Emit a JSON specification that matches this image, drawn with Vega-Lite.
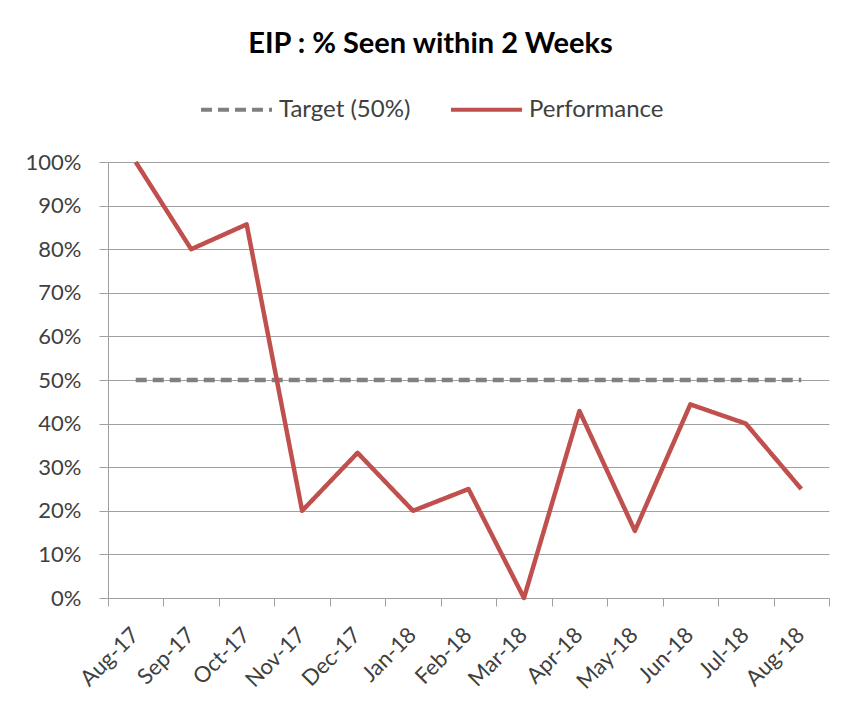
{
  "$schema": "https://vega.github.io/schema/vega-lite/v6.json",
  "width": 721,
  "height": 436,
  "autosize": {"type": "none"},
  "padding": {"left": 108, "top": 162, "right": 23, "bottom": 113},
  "background": "white",
  "title": {
    "text": "EIP : % Seen within 2 Weeks",
    "font": "Lato",
    "fontSize": 29,
    "fontWeight": "bold",
    "color": "#000000",
    "anchor": "middle",
    "dx": -38,
    "offset": 13
  },
  "config": {
    "view": {"stroke": null},
    "font": "Lato"
  },
  "data": {
    "values": [
      {"month": "Aug-17", "series": "Target (50%)", "value": 0.5},
      {"month": "Sep-17", "series": "Target (50%)", "value": 0.5},
      {"month": "Oct-17", "series": "Target (50%)", "value": 0.5},
      {"month": "Nov-17", "series": "Target (50%)", "value": 0.5},
      {"month": "Dec-17", "series": "Target (50%)", "value": 0.5},
      {"month": "Jan-18", "series": "Target (50%)", "value": 0.5},
      {"month": "Feb-18", "series": "Target (50%)", "value": 0.5},
      {"month": "Mar-18", "series": "Target (50%)", "value": 0.5},
      {"month": "Apr-18", "series": "Target (50%)", "value": 0.5},
      {"month": "May-18", "series": "Target (50%)", "value": 0.5},
      {"month": "Jun-18", "series": "Target (50%)", "value": 0.5},
      {"month": "Jul-18", "series": "Target (50%)", "value": 0.5},
      {"month": "Aug-18", "series": "Target (50%)", "value": 0.5},
      {"month": "Aug-17", "series": "Performance", "value": 1.0},
      {"month": "Sep-17", "series": "Performance", "value": 0.8},
      {"month": "Oct-17", "series": "Performance", "value": 0.857},
      {"month": "Nov-17", "series": "Performance", "value": 0.2},
      {"month": "Dec-17", "series": "Performance", "value": 0.333},
      {"month": "Jan-18", "series": "Performance", "value": 0.2},
      {"month": "Feb-18", "series": "Performance", "value": 0.25},
      {"month": "Mar-18", "series": "Performance", "value": 0.0},
      {"month": "Apr-18", "series": "Performance", "value": 0.429},
      {"month": "May-18", "series": "Performance", "value": 0.154},
      {"month": "Jun-18", "series": "Performance", "value": 0.444},
      {"month": "Jul-18", "series": "Performance", "value": 0.4},
      {"month": "Aug-18", "series": "Performance", "value": 0.25}
    ]
  },
  "mark": {"type": "line", "strokeWidth": 4.5, "strokeCap": "butt", "strokeJoin": "round"},
  "encoding": {
    "x": {
      "field": "month",
      "type": "ordinal",
      "sort": null,
      "scale": {"type": "band", "paddingInner": 0, "paddingOuter": 0},
      "axis": {
        "title": null,
        "tickBand": "extent",
        "labelAngle": -45,
        "labelFont": "Lato",
        "labelFontSize": 22,
        "labelColor": "#404040",
        "labelPadding": 18,
        "labelOffset": -8,
        "tickSize": 8,
        "tickColor": "#A0A0A0",
        "domainColor": "#A0A0A0",
        "grid": false
      }
    },
    "y": {
      "field": "value",
      "type": "quantitative",
      "scale": {"domain": [0, 1], "nice": false},
      "axis": {
        "title": null,
        "format": ".0%",
        "values": [0, 0.1, 0.2, 0.3, 0.4, 0.5, 0.6, 0.7, 0.8, 0.9, 1.0],
        "labelFont": "Lato",
        "labelFontSize": 22,
        "labelColor": "#404040",
        "labelPadding": 18,
        "tickSize": 9,
        "tickColor": "#A0A0A0",
        "domainColor": "#A0A0A0",
        "grid": true,
        "gridColor": "#A0A0A0",
        "gridWidth": 1
      }
    },
    "color": {
      "field": "series",
      "type": "nominal",
      "sort": null,
      "scale": {"domain": ["Target (50%)", "Performance"], "range": ["#808080", "#C0504D"]},
      "legend": {
        "title": null,
        "orient": "none",
        "direction": "horizontal",
        "legendX": 91,
        "legendY": -90,
        "symbolType": "stroke",
        "symbolSize": 5041,
        "symbolStrokeWidth": 4,
        "labelFont": "Lato",
        "labelFontSize": 24,
        "labelColor": "#404040",
        "labelOffset": 5,
        "columnPadding": 32
      }
    },
    "strokeDash": {
      "field": "series",
      "type": "nominal",
      "sort": null,
      "scale": {"domain": ["Target (50%)", "Performance"], "range": [[11, 6], [1, 0]]},
      "legend": null
    }
  }
}
